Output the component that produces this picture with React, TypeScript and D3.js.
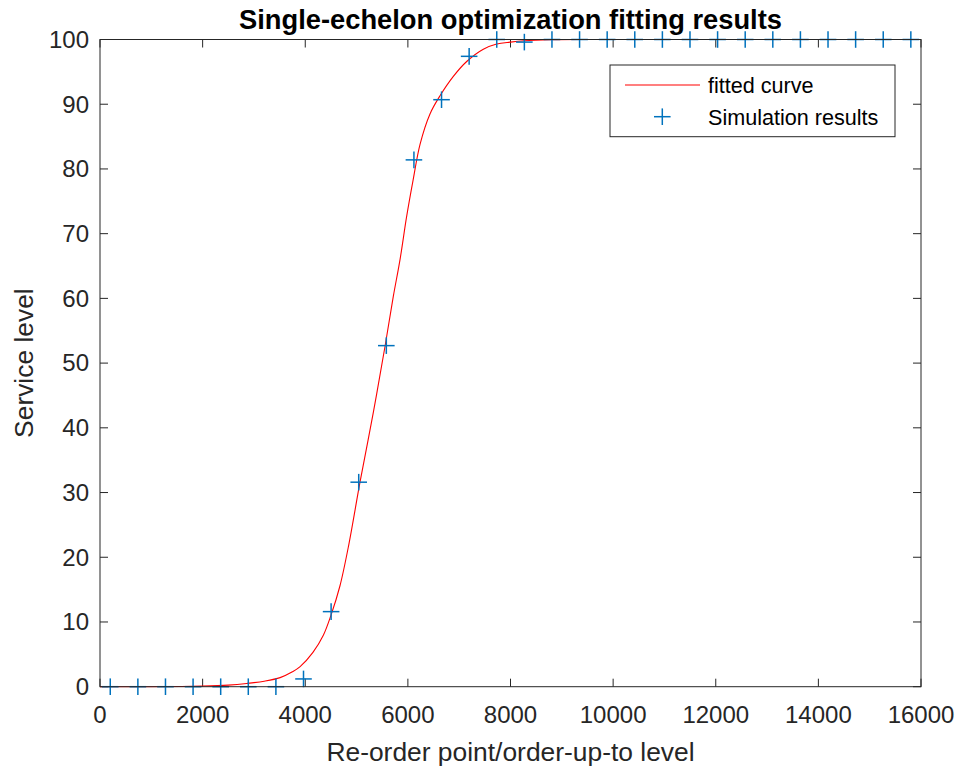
import React from "react";
import * as d3 from "d3";

const simX = [200, 738, 1276, 1814, 2352, 2890, 3428, 3966, 4504, 5042, 5580, 6118, 6656, 7194, 7732, 8270, 8808, 9346, 9884, 10422, 10960, 11498, 12036, 12574, 13112, 13650, 14188, 14726, 15264, 15802];
const simY = [0, 0, 0, 0, 0, 0, 0, 1.2, 11.6, 31.6, 52.7, 81.4, 90.7, 97.4, 100, 99.6, 100, 100, 100, 100, 100, 100, 100, 100, 100, 100, 100, 100, 100, 100];

const fitX = [0, 1000, 2000, 2500, 2860, 3200, 3510, 3750, 3900, 4150, 4350, 4500, 4677, 4850, 5067, 5325, 5555, 5716, 5847, 5977, 6100, 6237, 6431, 6626, 6886, 7146, 7470, 7731, 8000, 8270, 8800, 9500, 11000, 16000];
const fitY = [0, 0, 0.1, 0.25, 0.5, 0.85, 1.4, 2.3, 3.1, 5.3, 7.9, 11.0, 15.6, 22.0, 31.6, 42.3, 52.6, 60.3, 66.0, 72.7, 78.2, 83.8, 88.5, 91.3, 94.3, 96.6, 98.5, 99.3, 99.6, 99.8, 99.95, 100, 100, 100];

const xTicks = [0, 2000, 4000, 6000, 8000, 10000, 12000, 14000, 16000];
const yTicks = [0, 10, 20, 30, 40, 50, 60, 70, 80, 90, 100];

const W = 958, H = 767;
const L = 100, R = 921, T = 39.5, B = 686.7;
const FONT = "'Liberation Sans', Arial, Helvetica, sans-serif";
const AX = "#262626";

export default function App() {
  const x = d3.scaleLinear().domain([0, 16000]).range([L, R]);
  const y = d3.scaleLinear().domain([0, 100]).range([B, T]);
  const line = d3.line<number>().x((_, i) => x(fitX[i])).y((d) => y(d)).curve(d3.curveCatmullRom.alpha(0.5));
  const tl = 8;
  const arm = 8.3;
  const plus = (cx: number, cy: number, k: string) => (
    <g key={k} stroke="#0072BD" strokeWidth={1.5}>
      <line x1={cx - arm} x2={cx + arm} y1={cy} y2={cy} />
      <line x1={cx} x2={cx} y1={cy - arm} y2={cy + arm} />
    </g>
  );
  return (
    <svg width={W} height={H} style={{ position: "absolute", left: 0, top: 0 }} fontFamily={FONT}>
      <rect x={0} y={0} width={W} height={H} fill="#fff" />
      <rect x={L} y={T} width={R - L} height={B - T} fill="#fff" />
      <defs>
        <clipPath id="pc"><rect x={L} y={T - 1} width={R - L} height={B - T + 2} /></clipPath>
      </defs>
      <g stroke={AX} strokeWidth={1}>
        {xTicks.map((t) => (
          <g key={"xt" + t}>
            <line x1={x(t)} x2={x(t)} y1={B} y2={B - tl} />
            <line x1={x(t)} x2={x(t)} y1={T} y2={T + tl} />
          </g>
        ))}
        {yTicks.map((t) => (
          <g key={"yt" + t}>
            <line x1={L} x2={L + tl} y1={y(t)} y2={y(t)} />
            <line x1={R} x2={R - tl} y1={y(t)} y2={y(t)} />
          </g>
        ))}
      </g>
      <path d={line(fitY) || ""} fill="none" stroke="#FF0000" strokeWidth={1.1} clipPath="url(#pc)" />
      {simX.map((v, i) => plus(x(v), y(simY[i]), "p" + i))}
      <rect x={L} y={T} width={R - L} height={B - T} fill="none" stroke={AX} strokeWidth={1} />
      {xTicks.map((t) => (
        <text key={"xl" + t} x={x(t)} y={723} textAnchor="middle" fontSize={24} fill={AX}>{t}</text>
      ))}
      {yTicks.map((t) => (
        <text key={"yl" + t} x={89} y={y(t) + 8.3} textAnchor="end" fontSize={24} fill={AX}>{t}</text>
      ))}
      <text x={(L + R) / 2} y={761} textAnchor="middle" fontSize={26.4} fill={AX}>Re-order point/order-up-to level</text>
      <text transform={`translate(33,${(T + B) / 2}) rotate(-90)`} textAnchor="middle" fontSize={26.4} fill={AX}>Service level</text>
      <text x={(L + R) / 2} y={29} textAnchor="middle" fontSize={27.3} fontWeight="bold" fill="#000">Single-echelon optimization fitting results</text>
      <rect x={610} y={65} width={285} height={71.7} fill="#fff" stroke={AX} strokeWidth={1} />
      <line x1={625} x2={700} y1={85} y2={85} stroke="#FF0000" strokeWidth={1.1} />
      <text x={708} y={93} fontSize={21.6} fill="#000">fitted curve</text>
      {plus(662.3, 116.7, "lg")}
      <text x={708} y={124.5} fontSize={21.6} fill="#000">Simulation results</text>
    </svg>
  );
}
